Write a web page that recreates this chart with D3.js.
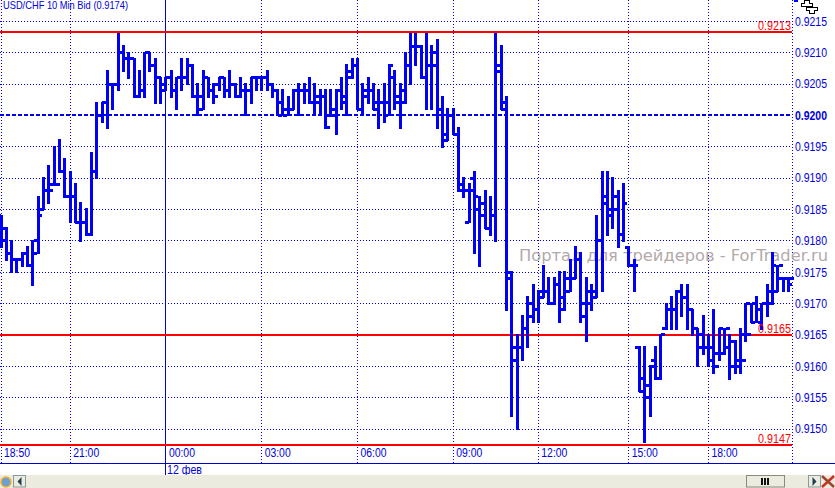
<!DOCTYPE html>
<html>
<head>
<meta charset="utf-8">
<script src="https://cdn.jsdelivr.net/npm/d3@7"></script>
<style>
	html, body { margin: 0; padding: 0; background: #fff; overflow: hidden; }
	svg { display: block; font-family: "Liberation Sans", Arial, sans-serif; }
</style>
</head>
<body>
<div id="chart"></div>
<script>
// prices are in 1/10000, one entry per 10 min bar
const opens = [9184,9182,9178,9177,9177,9178,9176,9180,9185,9188,9189,9189,9191,9187,9187,9183,9183,9181,9191,9200,9202,9205,9205,9210,9209,9209,9203,9204,9210,9208,9206,9205,9206,9204,9206,9206,9208,9203,9201,9206,9204,9205,9206,9204,9205,9203,9204,9204,9206,9206,9206,9205,9204,9202,9201,9201,9204,9204,9204,9202,9203,9203,9200,9201,9204,9202,9206,9208,9201,9204,9204,9202,9202,9202,9206,9202,9202,9208,9211,9211,9206,9208,9208,9201,9196,9200,9197,9188,9183,9190,9185,9184,9182,9184,9207,9202,9174,9163,9163,9166,9170,9169,9171,9172,9170,9173,9169,9172,9174,9177,9168,9172,9171,9180,9187,9185,9187,9181,9179,9176,9163,9158,9157,9161,9158,9166,9169,9169,9172,9171,9169,9166,9165,9163,9163,9160,9162,9166,9164,9160,9161,9165,9170,9167,9170,9170,9172,9176,9174,9174];
const highs = [9184,9182,9180,9177,9178,9179,9180,9187,9190,9192,9195,9196,9193,9191,9189,9186,9185,9194,9202,9202,9207,9205,9213,9211,9210,9209,9207,9210,9210,9209,9206,9206,9207,9206,9209,9209,9208,9205,9207,9206,9205,9206,9206,9207,9205,9206,9205,9206,9206,9206,9207,9205,9204,9204,9203,9204,9205,9205,9206,9205,9204,9204,9204,9204,9206,9208,9209,9209,9205,9206,9205,9204,9205,9208,9207,9205,9210,9213,9213,9211,9213,9211,9212,9203,9201,9201,9198,9190,9189,9191,9187,9188,9187,9213,9211,9203,9175,9165,9168,9171,9173,9172,9176,9174,9174,9175,9175,9177,9179,9178,9174,9173,9184,9191,9191,9190,9188,9189,9179,9177,9163,9163,9160,9163,9165,9170,9171,9172,9173,9173,9169,9166,9168,9165,9169,9166,9166,9165,9164,9166,9170,9170,9171,9170,9173,9178,9176,9174,9174];
const lows = [9179,9177,9175,9175,9176,9176,9173,9178,9185,9186,9189,9191,9187,9183,9183,9180,9181,9181,9190,9199,9198,9201,9204,9207,9206,9203,9203,9203,9207,9202,9202,9204,9203,9201,9204,9205,9203,9200,9201,9203,9202,9204,9203,9203,9203,9203,9200,9202,9204,9204,9204,9203,9200,9200,9200,9201,9200,9202,9202,9200,9200,9198,9200,9197,9201,9200,9206,9201,9200,9202,9201,9198,9199,9200,9201,9198,9202,9205,9208,9206,9201,9201,9198,9195,9196,9197,9188,9187,9183,9178,9176,9182,9181,9180,9201,9169,9152,9150,9161,9163,9167,9167,9171,9170,9170,9167,9169,9172,9174,9167,9164,9169,9171,9172,9181,9182,9179,9180,9176,9172,9156,9148,9152,9158,9158,9166,9166,9166,9168,9166,9165,9160,9162,9160,9159,9161,9162,9158,9159,9159,9164,9167,9167,9166,9168,9170,9172,9172,9172];
const closes = [9180,9178,9177,9177,9178,9176,9178,9184,9188,9188,9189,9191,9187,9187,9183,9183,9181,9191,9200,9202,9205,9205,9210,9209,9209,9203,9204,9210,9208,9206,9204,9206,9204,9206,9206,9208,9203,9203,9206,9204,9203,9206,9204,9205,9203,9204,9204,9206,9206,9206,9205,9204,9200,9200,9201,9204,9204,9204,9202,9202,9203,9198,9200,9204,9203,9207,9208,9201,9203,9204,9201,9202,9200,9208,9203,9204,9208,9211,9211,9206,9208,9210,9201,9197,9200,9197,9189,9188,9188,9187,9186,9182,9184,9208,9201,9175,9161,9163,9166,9168,9169,9172,9172,9170,9173,9171,9174,9174,9177,9170,9170,9172,9180,9186,9184,9185,9181,9186,9176,9176,9156,9155,9160,9158,9165,9169,9169,9172,9171,9169,9166,9163,9163,9161,9162,9166,9163,9160,9161,9165,9170,9167,9169,9170,9172,9176,9174,9174,9173];

// axis labels
const timeTickIndex = [0,13,31,49,67,85,101,118,133];
const timeTickLabels = ["18:50","21:00","00:00","03:00","06:00","09:00","12:00","15:00","18:00"];
const priceTicks = [9215,9210,9205,9200,9195,9190,9185,9180,9175,9170,9165,9160,9155,9150];
const redLevels = [9213.3,9165,9147.4];
const redLabels = ["0.9213","0.9165","0.9147"];

const width = 835, height = 488;
const plotRight = 792, axisY = 463, footerY = 475;
const blue = "#0000ff", barBlue = "#0000f5", red = "#ff0000", panel = "#ecebe0";

let svg = d3.select("#chart").append("svg")
	.attr("width", width)
	.attr("height", height);

//D3 Scales
let xScale = d3.scaleLinear()
	.domain([0, 148])
	.range([1, 1 + 148 * 5.32]);

let yScale = d3.scaleLinear()
	.domain([9215, 9150])
	.range([21.3, 429]);

//grid
let grid = svg.append("g").attr("shape-rendering", "crispEdges");

grid.selectAll(".hgrid")
	.data(priceTicks.filter(d => d != 9200))
	.join("line")
	.attr("class", "hgrid")
	.attr("x1", 0).attr("x2", plotRight)
	.attr("y1", d => yScale(d)).attr("y2", d => yScale(d))
	.attr("stroke", blue)
	.attr("stroke-dasharray", "1 2");

grid.selectAll(".vgrid")
	.data(timeTickIndex.filter(d => d != 31))
	.join("line")
	.attr("class", "vgrid")
	.attr("x1", d => xScale(d)).attr("x2", d => xScale(d))
	.attr("y1", 0).attr("y2", axisY)
	.attr("stroke", blue)
	.attr("stroke-dasharray", "1 2");

//right border of the plot
grid.append("line")
	.attr("x1", plotRight).attr("x2", plotRight)
	.attr("y1", 0).attr("y2", axisY)
	.attr("stroke", blue)
	.attr("stroke-dasharray", "1 2");

//day separator
grid.append("line")
	.attr("x1", xScale(31)).attr("x2", xScale(31))
	.attr("y1", 0).attr("y2", footerY)
	.attr("stroke", "#0000d0");

//bottom axis line
grid.append("line")
	.attr("x1", 0).attr("x2", width)
	.attr("y1", axisY).attr("y2", axisY)
	.attr("stroke", "#0000d0");

//0.9200 level
grid.append("line")
	.attr("x1", 0).attr("x2", plotRight)
	.attr("y1", yScale(9200)).attr("y2", yScale(9200))
	.attr("stroke", "#0000e8")
	.attr("stroke-width", 2)
	.attr("stroke-dasharray", "4 2");

//watermark, under the bars
svg.append("text")
	.attr("x", 519).attr("y", 261)
	.attr("font-family", "'DejaVu Sans'")
	.attr("font-size", 16)
	.attr("textLength", 309)
	.attr("lengthAdjust", "spacingAndGlyphs")
	.attr("fill", "#b3a9a9")
	.text("Портал для трейдеров - ForTrader.ru");

//red levels
svg.selectAll(".redLine")
	.data(redLevels)
	.join("line")
	.attr("class", "redLine")
	.attr("x1", 0).attr("x2", plotRight)
	.attr("y1", d => Math.round(yScale(d))).attr("y2", d => Math.round(yScale(d)))
	.attr("stroke", red)
	.attr("stroke-width", 2)
	.attr("shape-rendering", "crispEdges");

//bars
let bars = svg.append("g")
	.attr("stroke", barBlue)
	.attr("shape-rendering", "crispEdges")
	.selectAll("g")
	.data(opens.map((d, i) => i))
	.join("g");

bars.append("line")
	.attr("x1", i => xScale(i)).attr("x2", i => xScale(i))
	.attr("y1", i => yScale(highs[i]) - 1).attr("y2", i => yScale(lows[i]) + 1)
	.attr("stroke-width", 3);

bars.append("line")
	.attr("x1", i => xScale(i) - 4).attr("x2", i => xScale(i))
	.attr("y1", i => yScale(opens[i])).attr("y2", i => yScale(opens[i]))
	.attr("stroke-width", 3);

bars.append("line")
	.attr("x1", i => xScale(i)).attr("x2", i => xScale(i) + 4)
	.attr("y1", i => yScale(closes[i])).attr("y2", i => yScale(closes[i]))
	.attr("stroke-width", 3);

//red labels sit on the right end of the lines
svg.selectAll(".redLabel")
	.data(redLabels)
	.join("text")
	.attr("class", "redLabel")
	.attr("x", plotRight - 34)
	.attr("y", (d, i) => Math.round(yScale(redLevels[i])) - 2)
	.attr("font-size", 12)
	.attr("textLength", 33)
	.attr("lengthAdjust", "spacingAndGlyphs")
	.attr("fill", red)
	.text(d => d);

//Axis elements
let yAxis = svg.append("g")
	.attr("transform", `translate(${plotRight},0)`)
	.call(d3.axisRight(yScale)
		.tickValues(priceTicks)
		.tickSize(0)
		.tickPadding(3)
		.tickFormat(d => (d / 10000).toFixed(4)));

yAxis.select(".domain").remove();
yAxis.selectAll("text")
	.attr("font-size", 12)
	.attr("fill", "#0000e0")
	.attr("textLength", 32)
	.attr("lengthAdjust", "spacingAndGlyphs")
	.attr("font-weight", d => d == 9200 ? "bold" : "normal");

let xAxis = svg.append("g")
	.attr("transform", `translate(0,${axisY})`)
	.call(d3.axisBottom(xScale)
		.tickValues(timeTickIndex)
		.tickSize(0)
		.tickFormat((d, i) => timeTickLabels[i]));

xAxis.select(".domain").remove();
xAxis.selectAll("text")
	.attr("text-anchor", "start")
	.attr("dx", 2.5)
	.attr("y", -6)
	.attr("dy", 0)
	.attr("font-size", 12)
	.attr("textLength", 26)
	.attr("lengthAdjust", "spacingAndGlyphs")
	.attr("fill", "#0000e0");

svg.append("text")
	.attr("x", 167).attr("y", 474)
	.attr("font-size", 12)
	.attr("textLength", 35)
	.attr("lengthAdjust", "spacingAndGlyphs")
	.attr("fill", "#0000e0")
	.text("12 фев");

svg.append("text")
	.attr("x", 3).attr("y", 9)
	.attr("font-size", 11)
	.attr("textLength", 125)
	.attr("lengthAdjust", "spacingAndGlyphs")
	.attr("fill", "#0000e0")
	.text("USD/CHF 10 Min Bid (0.9174)");

//footer with the scroll controls
let footer = svg.append("g");

footer.append("rect")
	.attr("x", 0).attr("y", footerY)
	.attr("width", width).attr("height", height - footerY)
	.attr("fill", panel);

footer.append("circle")
	.attr("cx", 6).attr("cy", 482).attr("r", 5)
	.attr("fill", "#6f9fd0").attr("stroke", "#f0b030").attr("stroke-width", 1.5);

function button(x, w, dir){
	footer.append("rect")
		.attr("x", x + .5).attr("y", footerY + .5)
		.attr("width", w).attr("height", 11.5)
		.attr("fill", panel).attr("stroke", "#8a9a9a");
	let cx = x + w / 2 + .5;
	footer.append("path")
		.attr("d", `M${cx - 2 * dir},${footerY + 2}L${cx + 2 * dir},${footerY + 6.5}L${cx - 2 * dir},${footerY + 11}Z`)
		.attr("fill", "#204050");
}
button(13, 12, -1);
button(808, 12, 1);

//scroll thumb
footer.append("rect")
	.attr("x", 746.5).attr("y", footerY + .5)
	.attr("width", 38).attr("height", 11.5)
	.attr("fill", panel).attr("stroke", "#8a8a80");

footer.selectAll(".grip")
	.data([-3, 0, 3])
	.join("rect")
	.attr("class", "grip")
	.attr("x", d => 765 + d - 1).attr("y", footerY + 3)
	.attr("width", 2).attr("height", 7)
	.attr("fill", "#101010");

//red cross
footer.append("path")
	.attr("d", "M822,476L834,487M834,476L822,487")
	.attr("stroke", "#c83020").attr("stroke-width", 2.5);
footer.append("path")
	.attr("d", "M822,476L834,487")
	.attr("stroke", "#407050").attr("stroke-width", 1);

//toolbox glyph in the top right corner
svg.append("g")
	.attr("fill", "#fff")
	.attr("stroke", "#000")
	.attr("shape-rendering", "crispEdges")
	.selectAll("path")
	.data(["M804.5,0.5H809.5V3.5H812.5V6.5H801.5V3.5H804.5Z", "M806.5,7.5H817.5V10.5H814.5V13.5H809.5V10.5H806.5Z"])
	.join("path")
	.attr("d", d => d);
</script>
</body>
</html>
